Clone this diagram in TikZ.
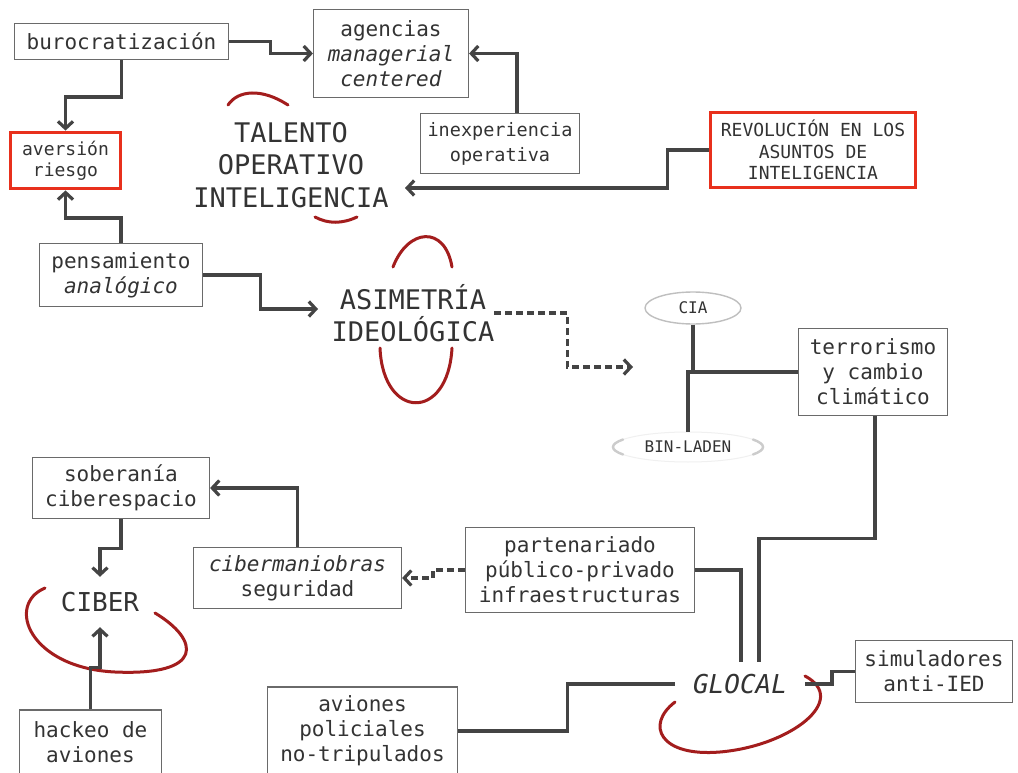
\documentclass[tikz,border=0pt]{standalone}
\usepackage{fontspec}
\setmainfont{DejaVu Sans Mono}[ItalicFont={DejaVu Sans Mono Oblique}]
\usetikzlibrary{arrows.meta,shapes.geometric}
\definecolor{txt}{HTML}{333333}
\definecolor{ln}{HTML}{444444}
\definecolor{bx}{HTML}{6A6A6A}
\definecolor{rbox}{HTML}{E8301C}
\definecolor{arcred}{HTML}{A31D1D}
\begin{document}
\begin{tikzpicture}[x=1pt,y=-1pt,
  box/.style={draw=bx, line width=1.2pt, fill=white, text=txt, align=center, inner sep=0pt, font=\fontsize{21}{25}\selectfont},
  redbox/.style={draw=rbox, line width=3.8pt, fill=white, text=txt, align=center, inner sep=0pt, font=\fontsize{18}{21.5}\selectfont},
  big/.style={text=txt, align=center, inner sep=0pt, font=\fontsize{27}{32.5}\selectfont},
  oval/.style={ellipse, draw=gray!50, line width=1.4pt, fill=white, text=txt, inner sep=0pt, font=\fontsize{16}{16}\selectfont},
  conn/.style={draw=ln, line width=3.2pt},
  arr/.style={conn, -{Straight Barb[length=7pt,width=15pt]}},
  dsh/.style={conn, dash pattern=on 7pt off 4pt, -{Straight Barb[length=7pt,width=15pt]}},
  arcst/.style={draw=arcred, line width=3pt, line cap=round},
  binarc/.style={draw=gray!40, line width=2.4pt, line cap=round}
]
\useasboundingbox (0,0) rectangle (1018,773);
\fill[white] (0,0) rectangle (1018,773);

% red arcs (behind text)
\draw[arcst] (228,105) .. controls (238,90) and (262,88) .. (288,105);
\draw[arcst] (315,217) .. controls (328,224) and (342,224) .. (357,217);
\draw[arcst] (393,267) .. controls (408,228) and (445,225) .. (452,267);
\draw[arcst] (380,348) .. controls (383,420) and (448,422) .. (452,348);
\draw[arcst] (45,588) .. controls (5,605) and (30,668) .. (115,672) .. controls (205,676) and (200,640) .. (155,613);
\draw[arcst] (675,702) .. controls (645,725) and (660,757) .. (720,752) .. controls (790,746) and (850,700) .. (805,676);

% nodes
\node[box, minimum width=214pt, minimum height=36pt] (buro) at (121.5,41.5) {burocratización};
\node[box, minimum width=155pt, minimum height=88pt] (agen) at (391,53.5) {agencias\\\textit{managerial}\\\textit{centered}};
\node[redbox, minimum width=110pt, minimum height=56pt] (aver) at (65.5,160.5) {aversión\\riesgo};
\node[big] (tal) at (291,165) {TALENTO\\OPERATIVO\\INTELIGENCIA};
\node[box, minimum width=159pt, minimum height=60pt, font=\fontsize{18.5}{25}\selectfont] (inexp) at (500,143.5) {inexperiencia\\operativa};
\node[redbox, minimum width=205pt, minimum height=75pt] (revol) at (813,150) {REVOLUCIÓN EN LOS\\ASUNTOS DE\\INTELIGENCIA};
\node[box, minimum width=163pt, minimum height=63pt] (pens) at (121,275) {pensamiento\\\textit{analógico}};
\node[big] (asim) at (413,313) {ASIMETRÍA\\IDEOLÓGICA};
\node[oval, minimum width=96pt, minimum height=32pt] (cia) at (693,308) {CIA};
\node[oval, draw=gray!12, line width=1pt, minimum width=150pt, minimum height=30pt] (bin) at (688,447) {BIN-LADEN};
\draw[binarc] (bin.center) ++(150:75 and 15) arc[start angle=150, end angle=210, x radius=75, y radius=15];
\draw[binarc] (bin.center) ++(30:75 and 15) arc[start angle=30, end angle=-30, x radius=75, y radius=15];
\node[box, minimum width=149pt, minimum height=87pt] (terr) at (873,372) {terrorismo\\y cambio\\climático};
\node[box, minimum width=177pt, minimum height=61pt] (sob) at (121,488) {soberanía\\ciberespacio};
\node[box, minimum width=208pt, minimum height=61pt] (cib) at (297.5,578) {\textit{cibermaniobras}\\seguridad};
\node[box, minimum width=229pt, minimum height=85pt] (part) at (580,570) {partenariado\\público-privado\\infraestructuras};
\node[big, minimum height=50pt, font=\fontsize{26}{30}\selectfont] (ciber) at (100,602) {CIBER};
\node[box, minimum width=157pt, minimum height=62pt] (sim) at (934,671.5) {simuladores\\anti-IED};
\node[big, minimum width=130pt, font=\fontsize{26}{30}\selectfont] (glocal) at (740,684) {\textit{GLOCAL}};
\node[box, minimum width=190pt, minimum height=88pt] (avi) at (362.5,731) {aviones\\policiales\\no-tripulados};
\node[box, minimum width=142pt, minimum height=65pt] (hack) at (90.5,742.5) {hackeo de\\aviones};

% free ends
\coordinate (talin) at (405,188);
\coordinate (asimin) at (318,309);
\coordinate (dashend) at (633,367);
\coordinate (gtopA) at (741,662);
\coordinate (gtopB) at (759,662);

% connectors
\draw[arr] (buro.east) -- ++(41,0) |- (agen.west);
\draw[arr] (buro.south) -- ++(0,37) -| (aver.north);
\draw[arr] ([xshift=17pt]inexp.north) |- (agen.east);
\draw[arr] (revol.west) -- ++(-41,0) |- (talin);
\draw[arr] (pens.north) -- ++(0,-25) -| (aver.south);
\draw[arr] (pens.east) -- ++(57,0) |- (asimin);
\draw[dsh] (asim.east) -- ++(73,0) |- (dashend);
\draw[conn] (cia.south) -- (cia.south |- terr.west);
\draw[conn] (bin.north) |- (terr.west);
\draw[conn] ([xshift=2pt]terr.south) -- ++(0,122) -| (gtopB);
\draw[conn] (part.east) -| (gtopA);
\draw[dsh] (part.west) -- ++(-32,0) |- (cib.east);
\draw[arr] (cib.north) |- (sob.east);
\draw[arr] (sob.south) -- ++(0,29) -| (ciber.north);
\draw[arr] (hack.north) -- ++(0,-42) -| (ciber.south);
\draw[conn] (avi.east) -- ++(109,0) |- (glocal.west);
\draw[conn] (sim.west) -- ++(-23,0) |- (glocal.east);
\end{tikzpicture}
\end{document}
